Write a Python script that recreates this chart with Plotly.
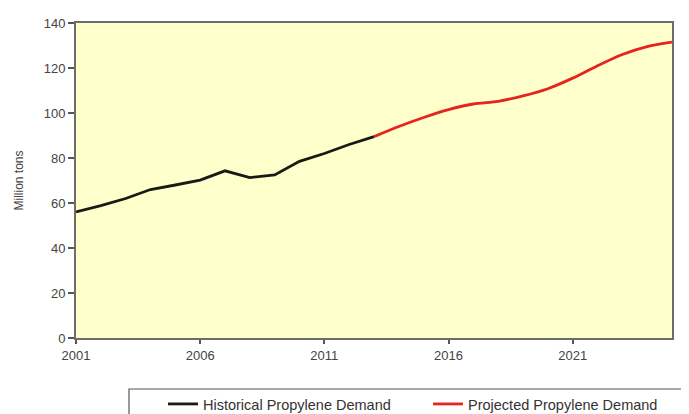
import plotly.graph_objects as go

hist_years = list(range(2001, 2014))
hist_values = [56, 58.8, 62, 66, 68, 70.2, 74.3, 71.3, 72.5, 78.5, 82, 86, 89.5]

proj_years = list(range(2013, 2026))
proj_values = [89.5, 94, 98, 101.5, 104, 105.2, 107.6, 110.8, 115.5, 121, 126, 129.5, 131.5]

x_ticks = [2001, 2006, 2011, 2016, 2021]
y_ticks = [0, 20, 40, 60, 80, 100, 120, 140]

# page shows the figure offset by the body margin (8px)
OFF = 8
W, H = 689 - OFF, 414 - OFF
L, R, T, B = 76 - OFF, 17, 23 - OFF, 76
PW, PH = W - L - R, H - T - B

fig = go.Figure()
fig.add_trace(go.Scatter(x=hist_years, y=hist_values, mode="lines",
                         name="Historical Propylene Demand", legend="legend",
                         line=dict(color="#1a1a14", width=2.8)))
fig.add_trace(go.Scatter(x=proj_years, y=proj_values, mode="lines",
                         name="Projected Propylene Demand", legend="legend2",
                         line=dict(color="#e8221c", width=2.8, shape="spline", smoothing=0.8)))

fam = "Liberation Sans, Arial"
axis_font = dict(family=fam, size=13, color="#444444")
leg_font = dict(family=fam, size=14.5, color="#333333")

def leg(page_x, page_y):
    fx, fy = page_x - OFF, page_y - OFF
    return dict(orientation="h", xref="container", yref="container",
                x=fx / W, y=1 - fy / H, xanchor="left", yanchor="top",
                borderwidth=0, bgcolor="rgba(0,0,0,0)", font=leg_font,
                itemwidth=30, tracegroupgap=0)

def px_x(page_x):
    return (page_x - OFF - L) / PW

def px_y(page_y):
    return (T + PH - (page_y - OFF)) / PH

fig.update_layout(
    width=W, height=H,
    margin=dict(l=L, r=R, t=T, b=B, autoexpand=False),
    paper_bgcolor="white",
    plot_bgcolor="#FFFFCC",
    showlegend=True,
    legend=leg(163, 388),
    legend2=leg(428, 388),
    shapes=[dict(type="rect", xref="paper", yref="paper",
                 x0=px_x(129), x1=px_x(700),
                 y0=px_y(425), y1=px_y(389),
                 line=dict(color="#555555", width=1.2), fillcolor="rgba(0,0,0,0)", layer="above")],
    xaxis=dict(range=[2001, 2025], tickvals=x_ticks, ticktext=[str(t) for t in x_ticks],
               showgrid=False, zeroline=False, showline=True, linecolor="#6e6e66",
               linewidth=2, mirror=True, ticks="outside", ticklen=4, tickcolor="#555555",
               tickwidth=1.5, tickfont=axis_font),
    yaxis=dict(range=[0, 140], tickvals=y_ticks, showgrid=False, zeroline=False,
               showline=True, linecolor="#6e6e66", linewidth=2, mirror=True,
               ticks="outside", ticklen=6, tickcolor="#555555", tickwidth=1.5, tickfont=axis_font,
               title=dict(text="Million tons", font=dict(family=fam, size=12, color="#444444"),
                          standoff=17)),
)

fig.write_html("out.html")
